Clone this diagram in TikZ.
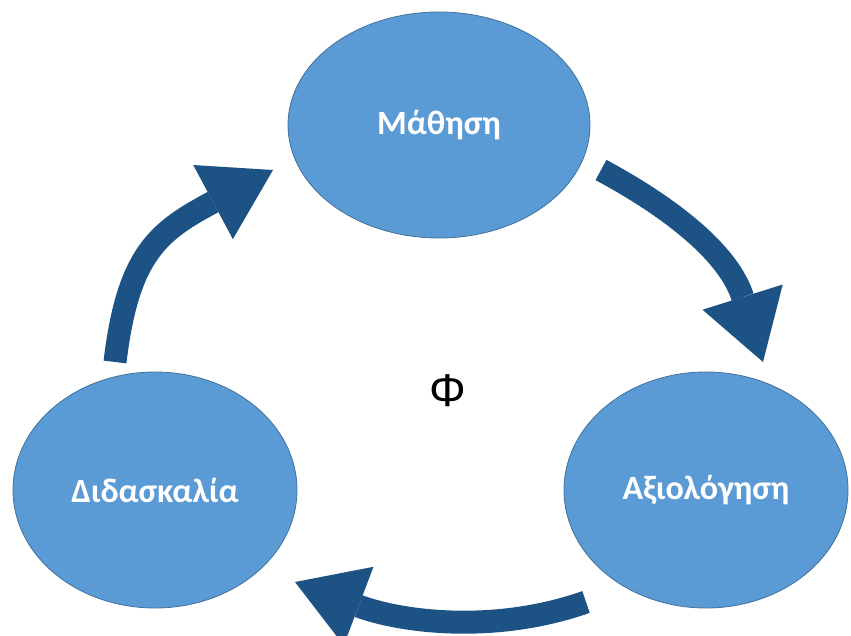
\documentclass[tikz,border=0pt]{standalone}
\usepackage{fontspec}
\setmainfont{Carlito}
\newfontfamily\phifont{Liberation Sans}
\usepackage{xcolor}
\usetikzlibrary{
    shapes.geometric,
    arrows.meta
}
\definecolor{stagefill}{HTML}{5B9BD5}
\definecolor{stageline}{HTML}{41719C}
\definecolor{cycblue}{HTML}{1D5285}
\tikzset{stage/.style={ellipse, draw=stageline, fill=stagefill, line width=0.8pt, inner sep=0pt, text=white, font=\fontsize{34}{36}\selectfont\bfseries}}
\tikzset{cyc/.style={draw=cycblue, line width=23pt, -{Triangle[width=84pt, length=68pt, line width=0pt]}}}

\begin{document}
\begin{tikzpicture}[x=1pt, y=-1pt]
    \useasboundingbox (0, 0) rectangle (851, 636);

    \node[stage, minimum width=302pt, minimum height=226pt] (learn) at (439, 125) {Μάθηση};
    \node[stage, minimum width=284pt, minimum height=236pt] (teach) at (155, 490) {Διδασκαλία};
    \node[stage, minimum width=284pt, minimum height=236pt] (assess) at (706, 490) {Αξιολόγηση};

    \node[font=\phifont\fontsize{46}{50}\selectfont] (phi) at (448, 391) {Φ};

    \coordinate (learntail) at (601, 170);
    \coordinate (assesstip) at (763, 362);
    \coordinate (assesstail) at (586, 602);
    \coordinate (teachtip) at (295, 582);
    \coordinate (teachtail) at (115, 362);
    \coordinate (learntip) at (273, 170);

    \draw[cyc] (learntail) .. controls (679, 212) and (730, 257) .. (assesstip);
    \draw[cyc] (assesstail) .. controls (492, 635) and (398, 621) .. (teachtip);
    \draw[cyc] (teachtail) .. controls (128, 253) and (159, 231) .. (learntip);
\end{tikzpicture}
\end{document}
